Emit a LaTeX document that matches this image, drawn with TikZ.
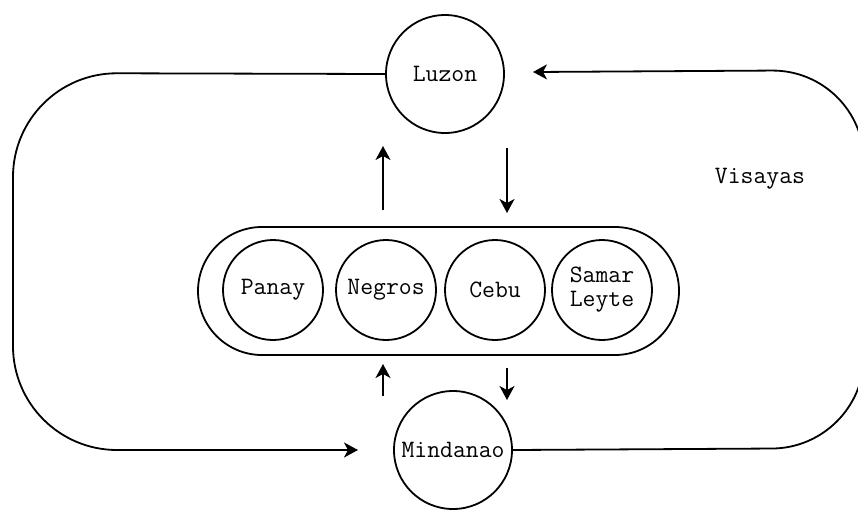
\documentclass[tikz,border=0pt]{standalone}
\usetikzlibrary{arrows.meta,shapes.misc}
\begin{document}
\begin{tikzpicture}[x=0.5pt,y=-0.5pt,
  every node/.style={font=\ttfamily\fontsize{12.5}{14}\selectfont},
  line/.style={line width=0.9pt},
  isle/.style={circle,draw,line width=0.9pt,inner sep=0pt},
  bigisle/.style={isle,minimum size=59pt},
  smallisle/.style={isle,minimum size=50pt,align=center},
  tip/.style={-{Stealth[length=7pt,width=7.5pt,inset=2pt]}}]
\useasboundingbox (0,0) rectangle (858,510);
\clip (0,0) rectangle (858,510);

% main islands
\node[bigisle] (luzon) at (445,74) {Luzon};
\node[bigisle] (mind) at (453,450) {Mindanao};

% the Visayas group
\node[rounded rectangle,draw,line width=0.9pt,minimum width=240.5pt,minimum height=64pt,inner sep=0pt] (vis) at (438.5,291) {};
\node[smallisle] (panay) at (273,290) {Panay};
\node[smallisle] (negros) at (386,290) {Negros};
\node[smallisle] (cebu) at (495,290) {Cebu};
\node[smallisle] (samar) at (602,290) {Samar\\[-2pt]Leyte};
\node (vlabel) at (760,179) {Visayas};

% short flow arrows
\coordinate (u1a) at (383,210); \coordinate (u1b) at (383,146);
\coordinate (d1a) at (507,148); \coordinate (d1b) at (507,213);
\coordinate (u2a) at (383,396); \coordinate (u2b) at (383,364);
\coordinate (d2a) at (507,368); \coordinate (d2b) at (507,400);
\draw[line,tip] (u1a) -- (u1b);
\draw[line,tip] (d1a) -- (d1b);
\draw[line,tip] (u2a) -- (u2b);
\draw[line,tip] (d2a) -- (d2b);

% outer loops
\coordinate (lcorner1) at (13,73);
\coordinate (lcorner2) at (13,450);
\coordinate (lend) at (358,450);
\coordinate (rcorner1) at (864,448);
\coordinate (rcorner2) at (864,70);
\coordinate (rend) at (533,72);
\draw[line,tip,rounded corners=52pt] (luzon.west) -- (lcorner1) -- (lcorner2) -- (lend);
\draw[line,tip,rounded corners=46pt] (mind.east) -- (rcorner1) -- (rcorner2) -- (rend);
\end{tikzpicture}
\end{document}
